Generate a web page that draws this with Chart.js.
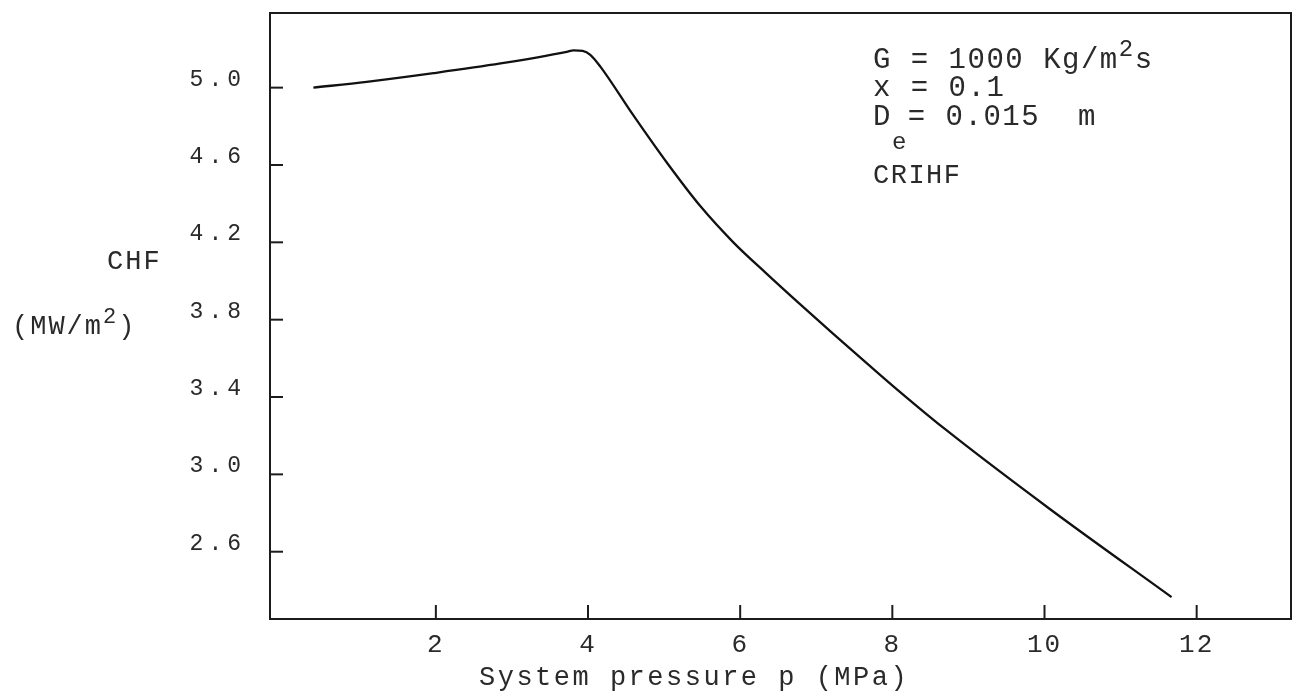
<!DOCTYPE html>
<html>
<head>
<meta charset="utf-8">
<script src="https://cdn.jsdelivr.net/npm/chart.js@4.4.0/dist/chart.umd.min.js"></script>
<style>
  html, body { margin: 0; padding: 0; background: #fff; }
  #wrap { width: 1306px; height: 697px; position: relative; }
</style>
</head>
<body>
<div id="wrap"><canvas id="chfChart"></canvas></div>
<script>
// values
const pressure = [0.39, 1.09, 1.97, 2.85, 3.72, 3.81, 3.93, 4.03, 4.16, 4.59, 5.04, 5.47, 5.91, 6.35, 6.79, 7.22, 7.67, 8.06, 8.69, 10.07, 11.67];
const chf = [5.00, 5.03, 5.075, 5.125, 5.185, 5.193, 5.19, 5.17, 5.11, 4.86, 4.61, 4.39, 4.20, 4.037, 3.879, 3.728, 3.573, 3.44, 3.235, 2.821, 2.365];
const xTicks = [2, 4, 6, 8, 10, 12];
const yTicks = [2.6, 3.0, 3.4, 3.8, 4.2, 4.6, 5.0];
const notes = ['x = 0.1', 'CRIHF'];

const FONT = '"Liberation Mono", "DejaVu Sans Mono", monospace';
const INK = '#1c1c1c';

function line(ctx, x1, y1, x2, y2) {
    ctx.beginPath();
    ctx.moveTo(x1, y1);
    ctx.lineTo(x2, y2);
    ctx.stroke();
}

// draws text with a raised / lowered small piece in the middle, returns end x
function textRun(ctx, parts, x, y) {
    parts.forEach(p => {
        ctx.font = p.font;
        ctx.fillText(p.text, x, y + (p.dy || 0));
        x += ctx.measureText(p.text).width;
    });
    return x;
}

// box, inward ticks and all the typed text of the figure
const paperPlugin = {
    id: 'paper',
    afterDraw(chart) {
        const { ctx, chartArea: a, scales: { x, y } } = chart;
        ctx.save();
        ctx.strokeStyle = INK;
        ctx.lineWidth = 2;
        ctx.strokeRect(a.left, a.top, a.right - a.left, a.bottom - a.top);

        yTicks.forEach(v => {
            const py = y.getPixelForValue(v);
            line(ctx, a.left, py, a.left + 13, py);
        });
        xTicks.forEach(v => {
            const px = x.getPixelForValue(v);
            line(ctx, px, a.bottom, px, a.bottom - 14);
        });

        ctx.fillStyle = '#2a2a2a';
        ctx.textBaseline = 'middle';

        // y tick labels
        ctx.font = '23px ' + FONT;
        ctx.letterSpacing = '5px';
        ctx.textAlign = 'right';
        yTicks.forEach(v => {
            ctx.fillText(v.toFixed(1), a.left - 24, y.getPixelForValue(v) - 8);
        });

        // x tick labels
        ctx.font = '26px ' + FONT;
        ctx.letterSpacing = '2px';
        ctx.textAlign = 'center';
        xTicks.forEach(v => {
            ctx.fillText(String(v), x.getPixelForValue(v), a.bottom + 26);
        });

        // axis titles
        ctx.textAlign = 'left';
        ctx.font = '27px ' + FONT;
        ctx.letterSpacing = '2.5px';
        ctx.fillText('System pressure p (MPa)', a.left + 209, a.bottom + 59);

        ctx.letterSpacing = '2px';
        ctx.fillText('CHF', 107, 262);
        textRun(ctx, [
            { text: '(MW/m', font: '27px ' + FONT },
            { text: '2', font: '22px ' + FONT, dy: -10 },
            { text: ')', font: '27px ' + FONT }
        ], 12, 327);

        // parameter block
        const nx = 873;
        ctx.letterSpacing = '1.5px';
        textRun(ctx, [
            { text: 'G = 1000 Kg/m', font: '29px ' + FONT },
            { text: '2', font: '24px ' + FONT, dy: -10 },
            { text: 's', font: '29px ' + FONT }
        ], nx, 60);
        ctx.font = '29px ' + FONT;
        ctx.fillText(notes[0], nx, 88);
        textRun(ctx, [
            { text: 'D', font: '29px ' + FONT },
            { text: 'e', font: '24px ' + FONT, dy: 26 },
            { text: '= 0.015  m', font: '29px ' + FONT }
        ], nx, 117);
        ctx.font = '27px ' + FONT;
        ctx.fillText(notes[1], nx, 176);

        ctx.restore();
    }
};

const ctx = document.getElementById('chfChart').getContext('2d');
const chfChart = new Chart(ctx, {
    type: 'line',
    data: {
        labels: pressure,
        datasets: [{
            label: 'CHF',
            data: pressure.map((p, i) => ({ x: p, y: chf[i] })),
            borderColor: '#111111',
            borderWidth: 2.3,
            pointRadius: 0,
            cubicInterpolationMode: 'monotone',
            fill: false,
        }],
    },
    options: {
        responsive: true,
        maintainAspectRatio: false,
        animation: false,
        layout: { padding: { top: 13, right: 15, left: 0, bottom: 0 } },
        plugins: {
            legend: { display: false },
            tooltip: { enabled: false },
        },
        scales: {
            x: {
                type: 'linear',
                min: -0.18,
                max: 13.24,
                grid: { display: false },
                border: { display: false },
                ticks: { display: false },
                afterBuildTicks: scale => { scale.ticks = xTicks.map(v => ({ value: v })); },
                afterFit: scale => { scale.height = 78; },
            },
            y: {
                type: 'linear',
                min: 2.252,
                max: 5.386,
                grid: { display: false },
                border: { display: false },
                ticks: { display: false },
                afterBuildTicks: scale => { scale.ticks = yTicks.map(v => ({ value: v })); },
                afterFit: scale => { scale.width = 270; },
            },
        },
    },
    plugins: [paperPlugin],
});
</script>
</body>
</html>
